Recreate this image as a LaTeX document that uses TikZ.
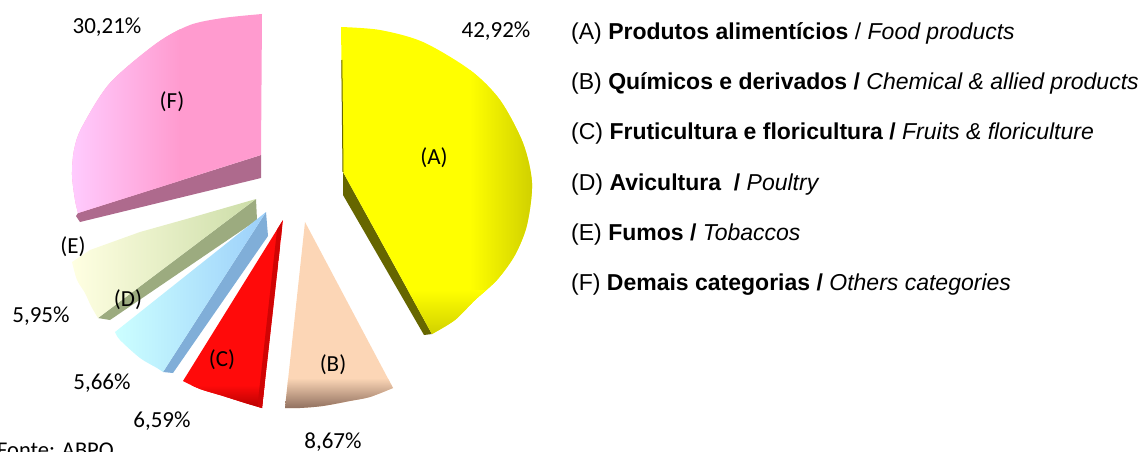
\documentclass[tikz,border=0pt]{standalone}
\usepackage{fontspec}
\setmainfont{Carlito}
\newfontfamily\arialf{Liberation Sans}
\definecolor{Fpink}{HTML}{FF9BCF}
\definecolor{Flight}{HTML}{FFCCFF}
\definecolor{Fside}{HTML}{AE6A8D}
\definecolor{Aye}{HTML}{FFFF00}
\definecolor{Adark}{HTML}{CFCF00}
\definecolor{Aside}{HTML}{666600}
\definecolor{Eface}{HTML}{CCDDA8}
\definecolor{Elight}{HTML}{FFFFE2}
\definecolor{Eside}{HTML}{9CAB7F}
\definecolor{Dface}{HTML}{9CCFFA}
\definecolor{Dlight}{HTML}{CCFFFF}
\definecolor{Dside}{HTML}{80AED8}
\definecolor{Cred}{HTML}{FF0A0A}
\definecolor{Cdark}{HTML}{B00000}
\definecolor{Bpeach}{HTML}{FCD6B6}
\definecolor{Bdark}{HTML}{8A6A5A}
\begin{document}
\begin{tikzpicture}[x=1pt,y=-1pt,
  pct/.style={font=\fontsize{23}{27}\selectfont, inner sep=0pt, anchor=base},
  lbl/.style={font=\fontsize{23}{27}\selectfont, inner sep=0pt, anchor=base},
  leg/.style={font=\arialf\fontsize{23}{27}\selectfont, inner sep=0pt, anchor=base west},
]
\useasboundingbox (0,0) rectangle (1141,452);

\def\Fface{(261,155) -- (262,14) -- plot[smooth] coordinates {(262,14) (223,18) (190,25) (157,43) (110,83) (82,127) (74,150) (72,175) (75,200) (78,213)} -- cycle}
\def\Eface{(256,199) -- (190,218) -- (140,232) -- (90,250) -- (72,262) -- plot[smooth] coordinates {(72,262) (77,280) (85,293) (91,306) (98,318)} -- cycle}
\def\Dface{(266,212) -- (115,332) -- plot[smooth] coordinates {(115,332) (120,340) (140,358) (157,368) (163,372)} -- cycle}
\def\Cface{(283,220) -- (183,381) -- plot[smooth] coordinates {(183,381) (200,389) (223,396) (245,403) (262,408)} -- cycle}
\def\Bface{(305,222) -- (285,408) -- plot[smooth] coordinates {(285,408) (300,408) (323,406) (350,401) (370,397) (393,388)} -- cycle}
\def\Aface{(343,172) -- (341,27) -- plot[smooth] coordinates {(341,27) (380,30) (423,42) (470,70) (500,100) (523,143) (532,183) (527,225) (515,255) (497,280) (475,300) (455,320) (432,334)} -- cycle}

% F slice
\fill[Fside] (261,155) -- (261,178) -- (80,222) -- (76,216) -- (78,213) -- cycle;
\begin{scope}
\clip \Fface;
\fill[Fpink] (60,0) rectangle (270,230);
\shade[left color=Flight, right color=Fpink] (70,0) rectangle (180,230);
\end{scope}

% E slice
\fill[Eside] (256,199) -- (257,220) -- (110,320) -- (98,318) -- cycle;
\shade[left color=Elight, right color=Eface] \Eface;

% D slice
\fill[Dside] (266,212) -- (268,236) -- (173,373) -- (163,372) -- cycle;
\shade[left color=Dlight, right color=Dface] \Dface;

% C slice
\begin{scope}
\clip \Cface;
\fill[Cred] (170,210) rectangle (290,412);
\shade[top color=Cred, bottom color=Cdark] (170,385) rectangle (290,410);
\fill[Cdark!60!Cred] (283,215) -- (277,230) -- (257,410) -- (266,410) -- cycle;
\end{scope}

% B slice
\begin{scope}
\clip \Bface;
\fill[Bpeach] (280,210) rectangle (400,412);
\shade[top color=Bpeach, bottom color=Bdark] (280,378) rectangle (400,410);
\end{scope}

% A slice
\fill[Aside] (343,172) -- (343,195) -- (424,335) -- (432,334) -- cycle;
\begin{scope}
\clip \Aface;
\fill[Aye] (335,20) rectangle (540,340);
\shade[left color=Aye, right color=Adark] (470,20) rectangle (534,340);
\shade[top color=Aye, bottom color=Adark] (335,290) rectangle (540,336);
\end{scope}
\draw[Aside, line width=1pt] (341.8,60) -- (343,172);

% slice labels
\node[lbl] (labF) at (172,108) {(F)};
\node[lbl] (labA) at (434,164) {(A)};
\node[lbl] (labE) at (73,253) {(E)};
\node[lbl] (labD) at (128,306) {(D)};
\node[lbl] (labC) at (222,366) {(C)};
\node[lbl] (labB) at (333,371) {(B)};

% percentages
\node[pct] (pF) at (107,34) {30,21\%};
\node[pct] (pA) at (496,38) {42,92\%};
\node[pct] (pE) at (41,322) {5,95\%};
\node[pct] (pD) at (102,389) {5,66\%};
\node[pct] (pC) at (162,427) {6,59\%};
\node[pct] (pB) at (333,448) {8,67\%};

% source
\node[font=\fontsize{22.5}{26}\selectfont, inner sep=0pt, anchor=base west] (src) at (-3,457) {Fonte: ABPO};

% legend
\node[leg] (legA) at (571,39.5) {(A) \textbf{Produtos alimentícios} / \textit{Food products}};
\node[leg] (legB) at (571,89.5) {(B) \textbf{Químicos e derivados /} \textit{Chemical \& allied products}};
\node[leg] (legC) at (571,139.5) {(C) \textbf{Fruticultura e floricultura /} \textit{Fruits \& floriculture}};
\node[leg] (legD) at (571,190.5) {(D) \textbf{Avicultura\ \ /} \textit{Poultry}};
\node[leg] (legE) at (571,240) {(E) \textbf{Fumos /} \textit{Tobaccos}};
\node[leg] (legF) at (571,290.5) {(F) \textbf{Demais categorias /} \textit{Others categories}};
\end{tikzpicture}
\end{document}
